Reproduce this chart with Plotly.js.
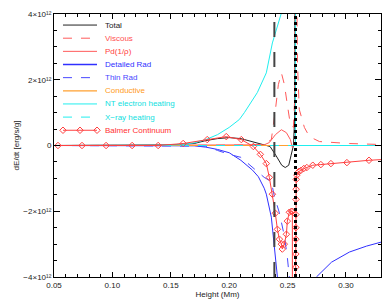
<!DOCTYPE html>
<html>
<head>
<meta charset="utf-8">
<script src="https://cdn.plot.ly/plotly-3.0.1.min.js"></script>
<style>html,body{margin:0;padding:0;background:#fff;}#chart{width:390px;height:306px;}</style>
</head>
<body>
<div id="chart"></div>
<script>
// ---- Data (Height in Mm, dE/dt in units of 1e12 erg/s/g) ----
var totalX = [0.05,0.10,0.15,0.17,0.18,0.19,0.20,0.21,0.22,0.23,0.235,0.24,0.245,0.248,0.251,0.253,0.255,0.2563,0.2565];
var totalY = [0,0,0.02,0.06,0.15,0.21,0.24,0.21,0.12,0.03,-0.03,-0.3,-0.6,-0.67,-0.6,-0.3,0.0,1.0,20];

var viscousX = [0.05,0.10,0.15,0.20,0.23,0.2361,0.2396,0.2421,0.2447,0.2473,0.2498,0.2524,0.255,0.2562,0.2567,0.2575,0.2585,0.260,0.2644,0.2687,0.2773,0.303,0.33];
var viscousY = [0,0,0,0.01,0.03,0.18,1.09,1.85,2.21,1.85,1.24,0.64,0.55,1.5,20,6,2.5,1.1,0.55,0.27,0.12,0.06,0.03];

var pdX = [0.05,0.10,0.15,0.20,0.23,0.2344,0.2396,0.2447,0.249,0.2524,0.2541,0.2545,0.30,0.33];
var pdY = [0,0,0,0.02,0.02,0.09,0.33,0.48,0.39,0.18,-0.06,0,0,0];

var detRadX = [0.05,0.10,0.15,0.17,0.18,0.19,0.20,0.21,0.22,0.225,0.23,0.2318,0.2361,0.2387,0.2413,0.2425,0.272,0.2747,0.2876,0.303,0.3176,0.33];
var detRadY = [0,0,0,-0.01,-0.05,-0.12,-0.22,-0.45,-0.75,-0.95,-1.3,-1.48,-2.18,-3.0,-4.0,-20,-20,-4.0,-3.55,-3.24,-3.06,-2.94];

var thinRadX = [0.05,0.10,0.15,0.17,0.18,0.19,0.20,0.21,0.22,0.2241,0.23,0.2361,0.2387,0.243,0.2473,0.2498,0.2515,0.2525];
var thinRadY = [0,0,0,0,-0.02,-0.15,-0.27,-0.36,-0.65,-0.79,-0.97,-1.1,-1.55,-2.05,-2.76,-3.4,-4.0,-20];

var condX = [0.05,0.10,0.15,0.20,0.25,0.2568];
var condY = [0,0,0,0,0,0];

var ntX = [0.05,0.10,0.15,0.16,0.17,0.18,0.19,0.20,0.2087,0.213,0.2241,0.2318,0.237,0.2447,0.25,0.2566,0.2568,0.26,0.30,0.33];
var ntY = [0,0,0.01,0.03,0.08,0.18,0.33,0.55,0.79,1.0,1.61,2.21,3.12,4.03,6,10,0,0,0,0];

var xrayX = [0.05,0.10,0.15,0.20,0.25,0.2568,0.26,0.30,0.33];
var xrayY = [0,0,0,0,0,0,0,0,0];

var balmerX = [0.0534,0.0740,0.0946,0.1169,0.1392,0.1606,0.1812,0.1975,0.2104,0.2207,0.2267,0.2318,0.2344,0.2370,0.2395,0.2413,0.2430,0.2447,0.2455,0.2472,0.2490,0.2498,0.2515,0.2533,0.2541,0.2543,0.2569,0.2571,0.2571,0.2571,0.2571,0.2571,0.2572,0.2573,0.2574,0.2580,0.2596,0.2613,0.2639,0.2665,0.2716,0.2785,0.2871,0.3008,0.3197,0.335];
var balmerY = [0,0,0,0,0,0.06,0.18,0.27,0.18,-0.03,-0.27,-0.55,-0.97,-1.48,-2.06,-2.55,-2.85,-3.0,-3.15,-3.0,-2.7,-2.3,-2.03,-2.0,-2.0,-20,-20,-3.7,-3.3,-2.85,-2.5,-2.1,-1.64,-1.33,-1.03,-0.9,-0.79,-0.76,-0.7,-0.67,-0.6,-0.58,-0.55,-0.52,-0.45,-0.42];

var markerHeights = [0.2387, 0.2568];

var yTickVals = [-4,-2,0,2,4];
var yTickText = ['\u22124\u00d710\u00b9\u00b2','\u22122\u00d710\u00b9\u00b2','0','2\u00d710\u00b9\u00b2','4\u00d710\u00b9\u00b2'];

var seriesNames = ['Total','Viscous','Pd(1/\u03c1)','Detailed Rad','Thin Rad','Conductive','NT electron heating','X\u2212ray heating','Balmer Continuum'];

// ---- Styles ----
var styles = [
  {color:'#222222', dash:'solid', width:1, text:'#222222'},
  {color:'#ff5a5a', dash:'dash', width:1, text:'#ff5050'},
  {color:'#ff5a5a', dash:'solid', width:1, text:'#ff4040'},
  {color:'#3030ff', dash:'solid', width:1, text:'#3030ff'},
  {color:'#4848ff', dash:'dash', width:1, text:'#4848ff'},
  {color:'#ffa030', dash:'solid', width:1.2, text:'#ff9a20'},
  {color:'#20eeee', dash:'solid', width:1, text:'#10e0e0'},
  {color:'#20eeee', dash:'dash', width:1, text:'#10e0e0'},
  {color:'#ff4040', dash:'solid', width:1, text:'#ff3030'}
];
var xs = [totalX, viscousX, pdX, detRadX, thinRadX, condX, ntX, xrayX, balmerX];
var ys = [totalY, viscousY, pdY, detRadY, thinRadY, condY, ntY, xrayY, balmerY];

var traces = [];
for (var i = 0; i < xs.length; i++) {
  var s = styles[i];
  var t = {x: xs[i], y: ys[i], type:'scatter', mode: (i===8?'lines+markers':'lines'),
    name: seriesNames[i], showlegend:false, hoverinfo:'skip',
    line:{color:s.color, dash:s.dash, width:s.width}};
  if (i===8) t.marker = {symbol:'diamond-open', size:5, color:s.color, line:{width:1, color:s.color}};
  traces.push(t);
}

// ---- Custom legend on an overlay axis ----
var legX0 = 0.0275, legX1 = 0.1315, legXm = 0.0795, legText = 0.1495;
var legTop = 0.958, legStep = 0.05;
var annotations = [];
for (var i = 0; i < seriesNames.length; i++) {
  var s = styles[i];
  var yy = legTop - i*legStep;
  var lt = {x: (i===8?[legX0,legXm,legX1]:[legX0,legX1]), y:(i===8?[yy,yy,yy]:[yy,yy]),
    xaxis:'x2', yaxis:'y2', type:'scatter', mode:(i===8?'lines+markers':'lines'),
    showlegend:false, hoverinfo:'skip', line:{color:s.color, dash:s.dash, width:(i===3?1.6:s.width)}};
  if (i===8) lt.marker = {symbol:'diamond-open', size:5, color:s.color, line:{width:1,color:s.color}};
  traces.push(lt);
  annotations.push({xref:'paper', yref:'paper', x:legText, y:yy, xanchor:'left', yanchor:'middle',
    text: seriesNames[i], showarrow:false, font:{size:8, color:s.text, family:'Liberation Sans, Arial, sans-serif'}});
}

var shapes = markerHeights.map(function(h, k){
  return {type:'line', xref:'x', yref:'paper', x0:h, x1:h, y0:0, y1:1,
    line:{color:(k===0?'#444444':'#000000'), width:(k===0?2:3), dash:(k===0?'longdash':'dot')}};
});

var axisFont = {family:'Liberation Sans, Arial, sans-serif', size:8, color:'#222'};
var layout = {
  width:390, height:306,
  margin:{l:54, r:9, t:14, b:29},
  paper_bgcolor:'#fff', plot_bgcolor:'#fff',
  showlegend:false,
  font: axisFont,
  xaxis:{range:[0.05,0.33], tick0:0.05, dtick:0.05, tickformat:'.2f', ticks:'inside', ticklen:5,
    showline:true, linecolor:'#000', linewidth:1, mirror:'allticks', showgrid:false, zeroline:false,
    tickfont:axisFont, minor:{dtick:0.01, ticklen:3, ticks:'inside', tickcolor:'#000'}, tickcolor:'#000',
    title:{text:'Height (Mm)', font:axisFont, standoff:2}},
  yaxis:{range:[-4,4], tickmode:'array', tickvals:yTickVals, ticktext:yTickText, ticks:'inside', ticklen:6,
    showline:true, linecolor:'#000', linewidth:1, mirror:'allticks', showgrid:false, zeroline:false,
    tickfont:axisFont, tickcolor:'#000', minor:{tickmode:'linear', tick0:0, dtick:0.5, ticklen:3, ticks:'inside', tickcolor:'#000'},
    title:{text:'dE/dt [erg/s/g]', font:axisFont, standoff:2}},
  xaxis2:{overlaying:'x', range:[0,1], visible:false, anchor:'y2'},
  yaxis2:{overlaying:'y', range:[0,1], visible:false, anchor:'x2'},
  shapes: shapes,
  annotations: annotations
};
Plotly.newPlot('chart', traces, layout, {staticPlot:true, displayModeBar:false});
</script>
</body>
</html>
